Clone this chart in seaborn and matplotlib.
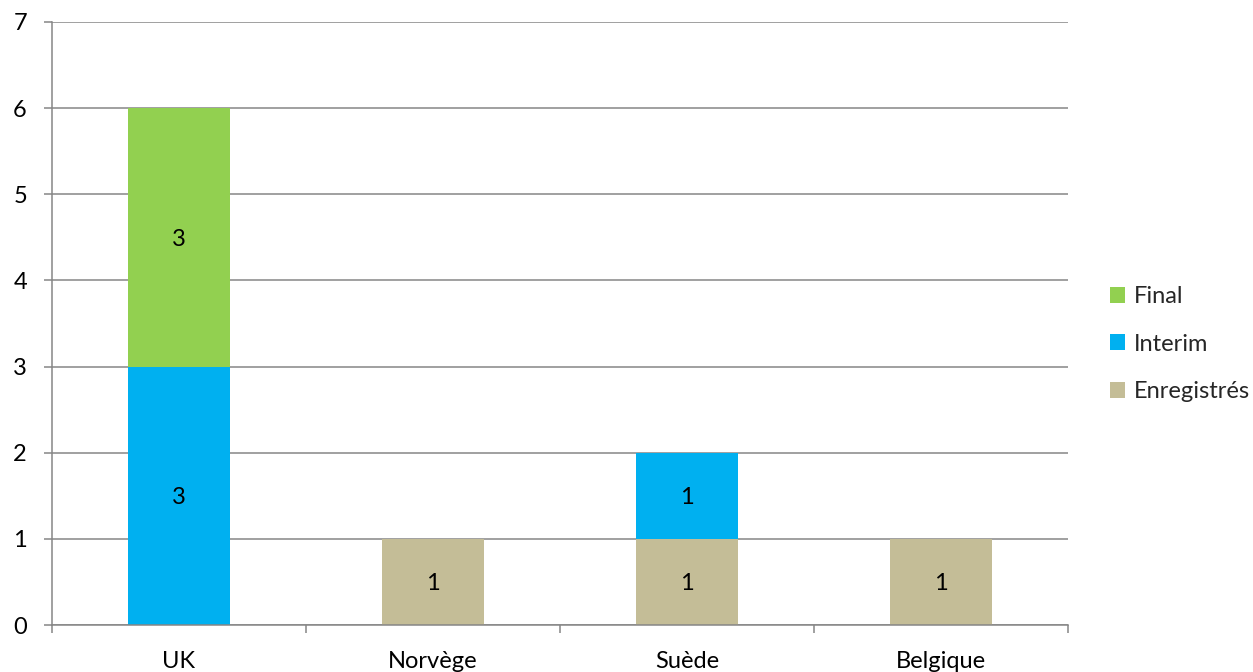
import matplotlib
matplotlib.use("Agg")
import matplotlib.pyplot as plt
import seaborn as sns
import numpy as np
import pandas as pd
from matplotlib.patches import Patch

categories = ["UK", "Norvège", "Suède", "Belgique"]
enregistres = [0, 1, 1, 1]
interim = [3, 0, 1, 0]
final = [3, 0, 0, 0]
series_names = ["Final", "Interim", "Enregistrés"]
yticks = [0, 1, 2, 3, 4, 5, 6, 7]

colors = {"Enregistrés": "#C4BD97", "Interim": "#00B0F0", "Final": "#92D050"}
grid_color = "#868686"

sns.set_theme(style="white")
plt.rcParams['font.family'] = ['Lato', 'DejaVu Sans']
fs = 17

fig = plt.figure(figsize=(12.53, 6.72), dpi=100)
ax = fig.add_axes([52/1253, 47/672, (1068-52)/1253, (625-22)/672])

df = pd.DataFrame({"cat": categories, "Enregistrés": enregistres,
                   "Interim": interim, "Final": final})
bottom = np.zeros(len(categories))
for name in ["Enregistrés", "Interim", "Final"]:
    vals = df[name].to_numpy()
    sns.barplot(data=df, x="cat", y=name, color=colors[name], width=0.4,
                bottom=bottom, ax=ax, zorder=3, saturation=1, linewidth=0,
                errorbar=None)
    cont = ax.containers[-1]
    texts = ax.bar_label(cont, labels=[str(v) if v > 0 else "" for v in vals],
                         label_type="center", fontsize=fs, color="black")
    for t in texts:
        t.set_verticalalignment("center_baseline")
    bottom = bottom + vals

ax.set_xlim(-0.5, len(categories) - 0.5)
ax.set_ylim(0, 7)
ax.set_yticks(yticks)
ax.set_ylabel("")
ax.set_xlabel("")
ax.yaxis.grid(True, color=grid_color, linewidth=1.1, zorder=0)
ax.xaxis.grid(False)
for s in ["top", "right"]:
    ax.spines[s].set_visible(False)
for s in ["left", "bottom"]:
    ax.spines[s].set_color(grid_color)
    ax.spines[s].set_linewidth(1.1)
    ax.spines[s].set_zorder(4)

ax.set_xticks(range(len(categories)))
ax.set_xticklabels(categories)
ax.set_xticks(np.arange(-0.5, len(categories), 1.0), minor=True)
ax.tick_params(axis="x", which="major", length=0, pad=19, labelsize=fs,
               labelcolor="black")
ax.tick_params(axis="x", which="minor", length=6, width=1.1, color=grid_color,
               direction="out", bottom=True)
ax.tick_params(axis="y", which="major", length=6, width=1.1, color=grid_color,
               direction="out", left=True, pad=12, labelsize=fs,
               labelcolor="black")

handles = [Patch(facecolor=colors[n], edgecolor="none") for n in series_names]
fig.legend(handles, series_names, loc="center left",
           bbox_to_anchor=(1110/1253, (672-344)/672), frameon=False,
           fontsize=fs, handlelength=0.65, handleheight=0.65,
           handletextpad=0.35, labelspacing=1.12, borderpad=0,
           borderaxespad=0)

fig.savefig("out.png", dpi=100)
